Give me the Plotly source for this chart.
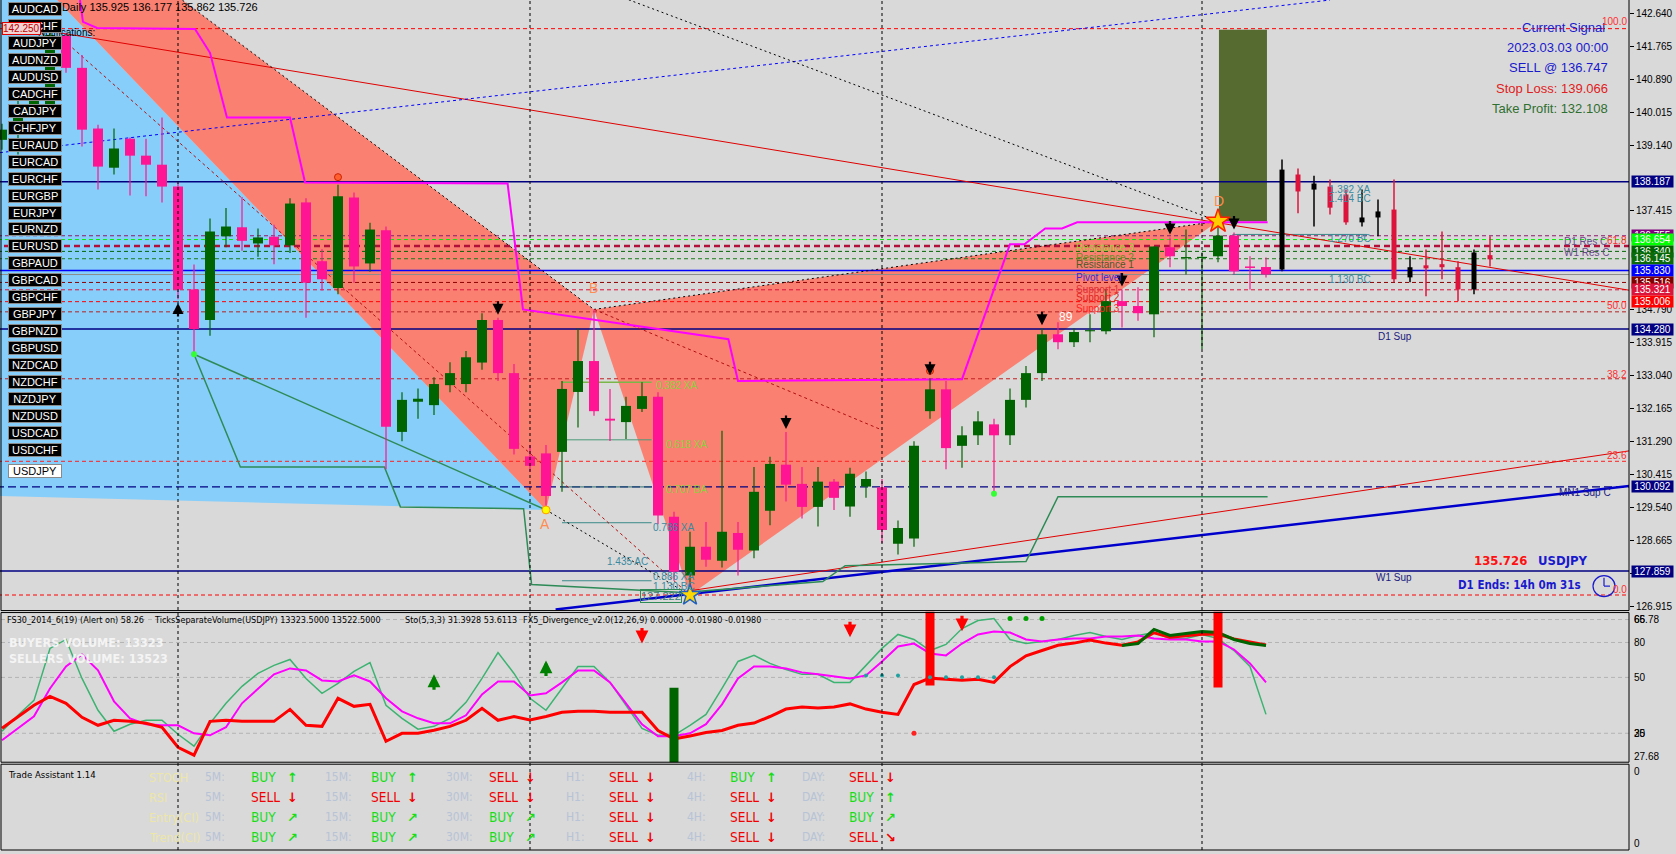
import plotly.graph_objects as go

W, H = 1676, 854
XR = 1629                      # right edge of plotting area (px)
MAIN_BOTTOM = 612
P1_TOP, P1_BOTTOM = 613, 765
P2_TOP, P2_BOTTOM = 766, 852
X_RANGE = [-0.125, (XR - 2) / 16]
Y_RANGE = [126.8091, 143.0106]
BG = "#d9d9d9"
SANS = "Liberation Sans, Arial, sans-serif"
COND = "DejaVu Sans Condensed, DejaVu Sans, sans-serif"


def px(x):
    return x / W


def py(y):
    return 1 - y / H


# ---------------- daily candles (USDJPY) ----------------
bar_idx = list(range(80))
bar_open = [139.30, 139.52, 140.18, 140.23, 142.06, 141.21, 139.60, 138.56, 139.33, 138.88,
            138.64, 138.06, 135.33, 134.52, 136.74, 136.98, 136.55, 136.73, 136.50, 137.64,
            136.08, 135.37, 137.77, 136.02, 136.90, 131.55, 132.35, 132.26, 132.79, 132.82,
            133.39, 134.52, 133.11, 130.90, 130.98, 131.02, 132.61, 133.43, 131.90, 131.81,
            132.16, 132.48, 129.30, 127.74, 128.50, 128.13, 128.87, 128.40, 129.46, 130.68,
            130.17, 129.56, 130.23, 129.57, 130.10, 130.08, 128.58, 128.72, 132.10, 132.68,
            131.18, 131.46, 131.75, 131.46, 132.40, 133.11, 134.14, 133.93, 134.22, 134.22,
            135.02, 134.89, 134.67, 136.45, 136.16, 136.17, 136.21, 136.76, 135.94, 135.925]
bar_high = [139.73, 140.36, 140.55, 142.27, 142.14, 141.55, 139.70, 139.60, 139.36, 139.33,
            139.89, 138.17, 135.99, 137.21, 137.49, 137.78, 136.95, 137.05, 137.75, 137.75,
            136.40, 138.11, 137.90, 137.10, 137.00, 132.60, 132.70, 133.00, 133.40, 133.70,
            134.70, 134.58, 133.35, 131.20, 131.20, 132.90, 134.30, 134.80, 132.69, 132.48,
            132.87, 132.60, 129.43, 128.90, 129.16, 131.58, 129.16, 130.62, 130.89, 131.55,
            130.62, 130.62, 130.30, 130.60, 130.50, 130.30, 129.20, 131.30, 132.97, 132.90,
            131.70, 132.10, 131.90, 132.70, 133.30, 134.30, 134.46, 134.30, 134.67, 135.33,
            135.33, 135.39, 136.47, 136.71, 136.92, 136.31, 137.13, 136.84, 136.21, 136.177]
bar_low = [139.04, 138.91, 139.90, 140.10, 141.08, 139.12, 137.98, 138.38, 137.82, 137.80,
           137.64, 135.07, 133.61, 134.10, 136.45, 136.36, 136.20, 136.00, 136.30, 134.58,
           135.30, 135.20, 135.51, 135.80, 130.56, 131.30, 131.90, 132.00, 132.60, 132.60,
           133.20, 132.90, 130.95, 130.50, 129.48, 129.96, 131.67, 131.98, 131.31, 131.36,
           132.08, 129.10, 127.60, 127.22, 127.97, 127.95, 127.74, 128.20, 129.07, 129.70,
           129.25, 129.04, 129.48, 129.30, 129.80, 128.60, 128.30, 128.50, 131.90, 130.56,
           130.60, 131.20, 129.91, 131.20, 132.20, 132.90, 133.74, 133.80, 133.93, 134.14,
           134.32, 134.50, 134.06, 135.92, 135.73, 133.75, 136.05, 135.73, 135.33, 135.65]
bar_close = [139.57, 140.18, 140.39, 142.08, 141.21, 139.57, 138.59, 139.07, 138.88, 138.64,
             138.06, 135.33, 134.28, 136.87, 137.00, 136.62, 136.71, 136.50, 137.61, 135.51,
             135.60, 137.80, 135.94, 136.92, 131.69, 132.40, 132.43, 132.82, 133.11, 133.53,
             134.52, 133.11, 131.10, 130.65, 129.85, 132.69, 133.43, 132.10, 131.85, 132.24,
             132.50, 129.33, 127.84, 128.50, 128.16, 128.90, 128.42, 129.96, 130.70, 130.15,
             129.56, 130.23, 129.80, 130.44, 130.30, 128.95, 129.00, 131.18, 132.68, 131.12,
             131.46, 131.83, 131.46, 132.40, 133.11, 134.14, 133.93, 134.20, 134.25, 135.02,
             134.89, 134.70, 136.47, 136.21, 136.19, 136.19, 136.76, 135.81, 135.90, 135.726]

# projected bars drawn to the right of the last bar
proj_idx = list(range(80, 94))
proj_open = [135.86, 138.38, 137.98, 138.06, 137.85, 137.11, 137.24, 137.45, 135.65, 135.97, 136.00, 135.92, 135.33, 136.24]
proj_high = [138.78, 138.54, 138.35, 138.25, 137.98, 137.98, 137.72, 138.25, 136.21, 136.39, 136.87, 136.08, 136.39, 136.74]
proj_low = [135.81, 137.35, 137.00, 137.32, 137.05, 137.00, 136.74, 135.52, 135.52, 135.15, 135.60, 135.02, 135.20, 135.94]
proj_close = [138.51, 137.93, 138.14, 137.50, 137.11, 137.24, 137.40, 135.60, 135.92, 135.89, 135.92, 135.33, 136.31, 136.13]

# harmonic pattern points (bar, price)
P0 = (-30.0, 130.17)
PX = (-16.7, 151.93)
PA = (34, 129.48)
PB = (37, 134.80)
PC = (43, 127.22)
PD = (76, 137.14)

# horizontal levels
level_price = [142.25, 138.187, 136.755, 136.654, 136.48, 136.340, 136.145, 135.830, 135.726,
               135.516, 135.321, 135.006, 134.736, 134.280, 132.96, 130.77, 130.092, 127.859, 127.222]
level_color = ["#ff0000", "#000080", "#8b1a6b", "#00ee00", "#b0103a", "#006400", "#1a7a1a", "#0000ff", "#8c8c8c",
               "#8b0000", "#dc143c", "#ff0000", "#b22222", "#000080", "#c02020", "#ff2020", "#000080", "#000080", "#ff0000"]
level_dash = ["4px,3px", "solid", "4px,3px", "4px,3px", "6px,4px", "4px,3px", "4px,3px", "solid", "solid",
              "4px,3px", "4px,3px", "4px,3px", "4px,3px", "solid", "4px,3px", "4px,3px", "8px,4px", "solid", "4px,3px"]
level_width = [1, 1.5, 1, 1, 2.5, 1, 1, 1.5, 1, 1, 1, 1, 1, 1.5, 1, 1, 1.2, 1.5, 1]

# trend lines (bar, price) pairs
red_trend = [(-0.125, 142.40), (101.69, 135.31)]
blue_dot_trend = [(-0.125, 138.96), (83.0, 143.01)]
blue_thick_trend = [(34.6, 126.84), (101.75, 130.12)]
red_thin_trend = [(42.6, 127.31), (101.75, 131.05)]
red_dot_xc = [(4.4, 141.74), PC]
red_dot_b = [PB, (55, 131.60)]

magenta_x = [4.875, 5.06, 5.94, 12.06, 13.0, 14.06, 18.0, 18.94, 31.6, 32.56, 45.4, 46.0, 60.0, 62.4, 63.0,
             63.9, 65.2, 66.25, 67.2, 79.1]
magenta_y = [143.01, 142.43, 142.27, 142.24, 141.61, 139.89, 139.89, 138.17, 138.14, 134.80, 134.01, 132.90,
             132.95, 135.81, 136.53, 136.53, 136.95, 136.95, 137.11, 137.11]
green_step_x = [12, 14.9, 23.9, 24.9, 32.6, 33.1, 42.6, 51.3, 52.7, 64.0, 66.0, 79.1]
green_step_y = [133.61, 130.62, 130.62, 129.56, 129.51, 127.50, 127.29, 127.58, 128.00, 128.11, 129.83, 129.83]
green_diag = [(12, 133.61), PA]

tp_box = dict(x0=76.06, x1=79.06, y0=137.14, y1=142.22)

pattern_lvl_price = [132.87, 131.34, 130.09, 129.14, 127.60]
pattern_lvl_color = ["#7ab648", "#4a9a7a", "#2f6f6f", "#3a8a8a", "#3a8a8a"]
right_lvl_price = [136.79, 135.73]

down_arrow_bars = [31, 49, 58, 65, 70, 73, 77]
up_arrow_bars = [11]
fractal_bars = [21, 58]

# ---------------- lower indicator panel ----------------
red_v = [23.0, 30.3, 38.2, 44.1, 39.5, 30.3, 25.0, 28.3, 27.6, 26.3, 23.7, 10.5, 5.3, 27.6, 28.3, 27.6, 27.6, 27.6, 35.5, 25.0,
         24.3, 42.8, 37.5, 38.8, 14.5, 19.7, 19.7, 21.7, 24.3, 28.3, 36.2, 28.3, 30.8, 28.5, 30.8, 33.6, 34.3, 34.3, 33.6, 33.6,
         33.6, 21.6, 16.0, 18.0, 20.2, 21.6, 25.0, 26.5, 30.8, 35.7, 37.1, 36.4, 37.1, 39.1, 35.7, 33.6, 32.2, 51.9, 56.1, 55.4,
         54.7, 55.4, 53.3, 63.7, 70.8, 74.3, 77.8, 79.2, 81.3, 79.2, 77.8, 80.0, 86.0, 83.0, 84.0, 85.0, 85.0, 82.0, 80.0, 78.0]
green_v = [21.1, 31.6, 41.4, 75.7, 81.6, 55.9, 34.9, 21.1, 25.7, 28.3, 28.3, 19.1, 11.2, 26.3, 39.5, 50.7, 59.2, 64.5, 68.4, 55.9,
           46.1, 52.6, 60.5, 66.4, 38.2, 29.6, 22.4, 24.3, 29.6, 40.1, 55.9, 73.0, 59.2, 42.8, 34.9, 49.3, 63.8, 63.8, 53.3, 38.2,
           23.0, 18.4, 18.4, 25.0, 32.2, 49.3, 67.1, 71.1, 65.8, 61.8, 58.6, 58.6, 53.3, 53.3, 64.5, 75.7, 84.9, 81.6, 74.3, 78.3,
           88.8, 94.1, 95.4, 81.6, 78.9, 80.3, 81.6, 84.2, 86.2, 83.6, 81.6, 84.2, 86.2, 82.2, 82.2, 84.9, 82.2, 74.3, 63.8, 32.2]
magenta_v = [15.1, 23.0, 30.9, 49.3, 63.8, 71.7, 61.2, 40.8, 29.6, 25.7, 25.0, 25.0, 19.7, 18.4, 23.7, 39.5, 49.3, 58.6, 62.5, 61.2,
             54.6, 53.9, 57.9, 53.9, 42.8, 34.2, 29.6, 26.3, 26.3, 31.6, 45.4, 53.9, 53.9, 44.7, 46.1, 53.3, 61.2, 61.2, 53.3, 39.5,
             25.7, 17.8, 17.8, 19.7, 25.7, 38.8, 55.9, 63.8, 63.8, 62.5, 59.9, 58.6, 57.2, 55.9, 57.9, 67.1, 77.0, 78.9, 72.4, 71.1,
             78.9, 84.9, 86.8, 86.2, 81.6, 80.3, 81.6, 82.2, 82.2, 83.6, 83.6, 84.2, 82.2, 81.6, 81.6, 80.3, 80.3, 75.0, 65.8, 53.3]
dkgreen_x = list(range(70, 80))
dkgreen_v = [77.6, 78.9, 88.2, 84.2, 85.5, 86.8, 86.2, 81.6, 78.9, 77.6]
hist_x = [42, 58, 76]
hist_lo = [0.7, 51.3, 49.9]
hist_hi = [49.7, 100.0, 100.0]
hist_col = ["#006400", "#ff0000", "#ff0000"]
sub_up_arrows = [(27, 58.6), (34, 67.8)]
sub_down_arrows = [(40, 79.0), (53, 83.0), (60, 87.0)]
green_dot_bars = [63, 64, 65]
teal_dot_bars = [54, 55, 56, 58, 59, 60, 61, 62]
teal_dot_v = [57.9, 57.9, 57.9, 56.6, 56.6, 56.6, 56.6, 56.6]
red_dot = (57, 19.7)

# ---------------- trade assistant ----------------
ta_rows = ["STOCH", "RSI", "Entry(CI)", "Trend(CI)"]
ta_periods = ["5M:", "15M:", "30M:", "H1:", "4H:", "DAY:"]
ta_signals = [["BUY", "BUY", "SELL", "SELL", "BUY", "SELL"],
              ["SELL", "SELL", "SELL", "SELL", "SELL", "BUY"],
              ["BUY", "BUY", "BUY", "SELL", "SELL", "BUY"],
              ["BUY", "BUY", "BUY", "SELL", "SELL", "SELL"]]
ta_arrows = [["↑", "↑", "↓", "↓", "↑", "↓"],
             ["↓", "↓", "↓", "↓", "↓", "↑"],
             ["↗", "↗", "↗", "↓", "↓", "↗"],
             ["↗", "↗", "↗", "↓", "↓", "↘"]]

symbols = ["AUDCAD", "AUDCHF", "AUDJPY", "AUDNZD", "AUDUSD", "CADCHF", "CADJPY", "CHFJPY", "EURAUD", "EURCAD",
           "EURCHF", "EURGBP", "EURJPY", "EURNZD", "EURUSD", "GBPAUD", "GBPCAD", "GBPCHF", "GBPJPY", "GBPNZD",
           "GBPUSD", "NZDCAD", "NZDCHF", "NZDJPY", "NZDUSD", "USDCAD", "USDCHF", "USDJPY"]

price_ticks = [142.640, 141.765, 140.890, 140.015, 139.140, 137.415, 134.790, 133.915, 133.040,
               132.165, 131.290, 130.415, 129.540, 128.665, 127.790, 126.915]
box_prices = [138.187, 136.755, 136.654, 136.340, 136.145, 135.830, 135.516, 135.321, 135.006, 134.280, 130.092, 127.859]
box_colors = ["#000080", "#800080", "#00ff00", "#006400", "#0b6b0b", "#0000ff", "#800000", "#dc143c", "#ff0000",
              "#000080", "#000080", "#000080"]

# =====================================================
traces = []
ann = []
shapes = []


def seg(pts, color, width=1, dash="solid", xa="x", ya="y"):
    traces.append(go.Scatter(x=[p[0] for p in pts], y=[p[1] for p in pts], mode="lines",
                             line=dict(color=color, width=width, dash=dash), xaxis=xa, yaxis=ya,
                             hoverinfo="skip"))


def text(x, y, s, color="black", size=11, family=SANS, xanchor="left", yanchor="middle", **kw):
    d = dict(x=px(x), y=py(y), xref="paper", yref="paper", text=s, showarrow=False,
             xanchor=xanchor, yanchor=yanchor, font=dict(color=color, size=size, family=family), borderpad=0)
    d.update(kw)
    ann.append(d)


def candles(idx, op, hi, lo, cl, up_col, dn_col, body_w, wick_w, min_body):
    for bull, col in [(True, up_col), (False, dn_col)]:
        wx, wy, bx, by = [], [], [], []
        for i, o, hh, ll, cc in zip(idx, op, hi, lo, cl):
            if (cc >= o) != bull:
                continue
            b0, b1 = min(o, cc), max(o, cc)
            if b1 - b0 < min_body:
                m = (b0 + b1) / 2
                b0, b1 = m - min_body / 2, m + min_body / 2
            wx += [i, i, None]
            wy += [ll, hh, None]
            bx += [i, i, None]
            by += [b0, b1, None]
        traces.append(go.Scatter(x=wx, y=wy, mode="lines", line=dict(color=col, width=wick_w), hoverinfo="skip"))
        traces.append(go.Scatter(x=bx, y=by, mode="lines", line=dict(color=col, width=body_w), hoverinfo="skip"))


for poly, col in [([P0, PX, PA], "#87cefa"), ([PX, PA, PB], "#fa8072"), ([PB, PC, PD], "#fa8072")]:
    traces.append(go.Scatter(x=[p[0] for p in poly] + [poly[0][0]], y=[p[1] for p in poly] + [poly[0][1]],
                             mode="lines", fill="toself", fillcolor=col, line=dict(width=0, color=col),
                             hoverinfo="skip"))

traces.append(go.Scatter(x=[tp_box["x0"], tp_box["x1"], tp_box["x1"], tp_box["x0"], tp_box["x0"]],
                         y=[tp_box["y0"], tp_box["y0"], tp_box["y1"], tp_box["y1"], tp_box["y0"]],
                         mode="lines", fill="toself", fillcolor="#556b2f", line=dict(width=0, color="#556b2f"),
                         hoverinfo="skip"))

for p, col, d, w in zip(level_price, level_color, level_dash, level_width):
    seg([(X_RANGE[0] - 1, p), (X_RANGE[1] + 1, p)], col, w, d)

for p, col in zip(pattern_lvl_price, pattern_lvl_color):
    seg([(35, p), (40.6, p)], col, 1.5 if col == "#7ab648" else 1)
for p in right_lvl_price:
    seg([(76.9, p), (85.3, p)], "#3a8a8a", 1)

seg(red_trend, "#e00000", 1)
seg(blue_dot_trend, "#0000ff", 1, "3px,3px")
seg([PX, PB], "#000000", 1, "2px,3px")
seg([PB, PD], "#000000", 1, "2px,3px")
seg([PX, PD], "#000000", 1, "2px,3px")
seg([PA, PC], "#000000", 1, "2px,3px")
seg(red_dot_xc, "#b01010", 1, "3px,3px")
seg(red_dot_b, "#b01010", 1, "3px,3px")
seg(red_thin_trend, "#e00000", 1)
seg(blue_thick_trend, "#0000cd", 2.5)
seg(green_diag, "#2e8b57", 1.5)
traces.append(go.Scatter(x=green_step_x, y=green_step_y, mode="lines", line=dict(color="#2e8b57", width=1.5),
                         hoverinfo="skip"))
traces.append(go.Scatter(x=magenta_x, y=magenta_y, mode="lines", line=dict(color="#ff00ff", width=2),
                         hoverinfo="skip"))

candles(bar_idx, bar_open, bar_high, bar_low, bar_close, "#006400", "#ff1493", 10, 1.2, 0.03)
candles(proj_idx, proj_open, proj_high, proj_low, proj_close, "#000000", "#dc143c", 5, 1.5, 0.03)

traces.append(go.Scatter(x=[fb for fb in fractal_bars], y=[bar_high[fb] + 0.2 for fb in fractal_bars], mode="markers",
                         marker=dict(symbol="circle", size=7, color="#ff6030", line=dict(color="#cc2000", width=1)),
                         hoverinfo="skip"))
traces.append(go.Scatter(x=[12, 62], y=[bar_low[12], bar_low[62]], mode="markers",
                         marker=dict(symbol="circle", size=6, color="#33ff33"), hoverinfo="skip"))
traces.append(go.Scatter(x=[PA[0]], y=[PA[1]], mode="markers",
                         marker=dict(symbol="circle", size=8, color="#ffff00", line=dict(color="#ff9900", width=1)),
                         hoverinfo="skip"))
traces.append(go.Scatter(x=[PC[0]], y=[PC[1]], mode="markers",
                         marker=dict(symbol="star", size=16, color="#ffd700", line=dict(color="#2060c0", width=1.5)),
                         hoverinfo="skip"))
traces.append(go.Scatter(x=[PD[0]], y=[PD[1]], mode="markers",
                         marker=dict(symbol="star", size=18, color="#ffcc00", line=dict(color="#ff2000", width=1.5)),
                         hoverinfo="skip"))

for b in down_arrow_bars:
    ann.append(dict(x=b, y=bar_high[b] + 0.08, xref="x", yref="y", text="", showarrow=True, ax=0, ay=-15,
                    arrowhead=2, arrowsize=1, arrowwidth=2.2, arrowcolor="#000000"))
for b in up_arrow_bars:
    ann.append(dict(x=b, y=bar_low[b] - 0.1, xref="x", yref="y", text="", showarrow=True, ax=0, ay=15,
                    arrowhead=2, arrowsize=1, arrowwidth=2.2, arrowcolor="#000000"))

traces.append(go.Scatter(x=bar_idx, y=green_v, mode="lines", line=dict(color="#3cb371", width=1.5),
                         xaxis="x2", yaxis="y2", hoverinfo="skip"))
traces.append(go.Scatter(x=bar_idx, y=magenta_v, mode="lines", line=dict(color="#ff00ff", width=2),
                         xaxis="x2", yaxis="y2", hoverinfo="skip"))
traces.append(go.Scatter(x=bar_idx, y=red_v, mode="lines", line=dict(color="#ff0000", width=3),
                         xaxis="x2", yaxis="y2", hoverinfo="skip"))
traces.append(go.Scatter(x=dkgreen_x, y=dkgreen_v, mode="lines", line=dict(color="#006400", width=3),
                         xaxis="x2", yaxis="y2", hoverinfo="skip"))
for hx, lo, hi, col in zip(hist_x, hist_lo, hist_hi, hist_col):
    traces.append(go.Scatter(x=[hx, hx], y=[lo, hi], mode="lines", line=dict(color=col, width=9),
                             xaxis="x2", yaxis="y2", hoverinfo="skip"))
traces.append(go.Scatter(x=green_dot_bars, y=[95.4] * len(green_dot_bars), mode="markers",
                         marker=dict(size=5, color="#00a000"), xaxis="x2", yaxis="y2", hoverinfo="skip"))
traces.append(go.Scatter(x=teal_dot_bars, y=teal_dot_v, mode="markers",
                         marker=dict(size=4, color="#20a0a0"), xaxis="x2", yaxis="y2", hoverinfo="skip"))
traces.append(go.Scatter(x=[red_dot[0]], y=[red_dot[1]], mode="markers",
                         marker=dict(size=5, color="#ff2020"), xaxis="x2", yaxis="y2", hoverinfo="skip"))
for b, v in sub_up_arrows:
    ann.append(dict(x=b, y=v, xref="x2", yref="y2", text="", showarrow=True, ax=0, ay=17,
                    arrowhead=2, arrowsize=0.8, arrowwidth=3.2, arrowcolor="#008000"))
for b, v in sub_down_arrows:
    ann.append(dict(x=b, y=v, xref="x2", yref="y2", text="", showarrow=True, ax=0, ay=-17,
                    arrowhead=2, arrowsize=0.8, arrowwidth=3.2, arrowcolor="#ff0000"))

for b in [11, 33, 55, 75]:
    shapes.append(dict(type="line", xref="x", yref="paper", x0=b, x1=b, y0=py(P2_BOTTOM), y1=1,
                       line=dict(color="#000000", width=1, dash="3px,3px"), layer="above"))
for gy in [621, 644, 679, 735]:
    shapes.append(dict(type="line", xref="paper", yref="paper", x0=px(1), x1=px(XR), y0=py(gy), y1=py(gy),
                       line=dict(color="#b4b4b4", width=1, dash="4px,3px"), layer="below"))
for (t, b) in [(-1, MAIN_BOTTOM), (P1_TOP + 1, P1_BOTTOM - 1), (P2_TOP, P2_BOTTOM)]:
    shapes.append(dict(type="rect", xref="paper", yref="paper", x0=px(1), x1=px(XR), y0=py(b), y1=py(t),
                       line=dict(color="#000000", width=1), layer="above"))
shapes.append(dict(type="circle", xref="paper", yref="paper", x0=px(1593), x1=px(1615), y0=py(598), y1=py(577),
                   line=dict(color="#1a1acd", width=1.2), layer="above"))
shapes.append(dict(type="line", xref="paper", yref="paper", x0=px(1604), x1=px(1604), y0=py(587.5), y1=py(579),
                   line=dict(color="#1a1acd", width=1.2), layer="above"))
shapes.append(dict(type="line", xref="paper", yref="paper", x0=px(1604), x1=px(1610), y0=py(587.5), y1=py(587.5),
                   line=dict(color="#1a1acd", width=1.2), layer="above"))

text(5, 7, "▼USDJPY,Daily 135.925 136.177 135.862 135.726", size=11)
text(96, 33, "Notifications:", size=10, xanchor="right")

for k, s in enumerate(symbols):
    top = 2 + 17 * k + (4 if s == "USDJPY" else 0)
    sel = s == "USDJPY"
    ann.append(dict(x=px(8), y=py(top), xref="paper", yref="paper", text=s, showarrow=False, xanchor="left",
                    yanchor="top", width=52, height=12, borderpad=0, align="center",
                    bgcolor="#ffffff" if sel else "#000000", bordercolor="#8a8a8a", borderwidth=1,
                    font=dict(color="#000000" if sel else "#ffffff", size=11, family=SANS)))

ann.append(dict(x=px(2), y=py(29), xref="paper", yref="paper", text="142.250", showarrow=False, xanchor="left",
                yanchor="middle", bgcolor="#f2d4d4", bordercolor="#e00000", borderwidth=1, borderpad=0,
                font=dict(color="#c00000", size=10, family=SANS)))

text(1606, 28, "Current Signal", color="#1a1acd", size=13, xanchor="right")
text(1609, 48, "2023.03.03 00:00", color="#1a1acd", size=13, xanchor="right")
text(1609, 68, "SELL @ 136.747", color="#1a1acd", size=13, xanchor="right")
text(1609, 89, "Stop Loss: 139.066", color="#e02020", size=13, xanchor="right")
text(1609, 109, "Take Profit: 132.108", color="#2f6f2f", size=13, xanchor="right")

for s, yy in [("100.0", 22), ("61.8", 241), ("50.0", 306), ("38.2", 375), ("23.6", 457), ("0.0", 591)]:
    text(1628, yy, s, color="#ff3030", size=10, xanchor="right")

text(1563, 242, "D1 Res C", color="#6a4a8a", size=10)
text(1563, 253, "W1 Res C", color="#6a4a8a", size=10)
text(1377, 337, "D1 Sup", color="#1a1a80", size=10)
text(1558, 494, "MN1 Sup C", color="#1a1a80", size=10)
text(1375, 579, "W1 Sup", color="#1a1a80", size=10)

for s, yy, col in [("Resistance 3", 248, "#9acd32"), ("Resistance 2", 258, "#6b8e23"), ("Resistance 1", 265, "#4a5a2a"),
                   ("Pivot level", 278, "#3a2ad0"), ("Support 1", 290, "#e03030"), ("Support 2", 298, "#e02020"),
                   ("Support 3", 309, "#ff2020")]:
    text(1075, yy, s, color=col, size=10)

text(1473, 562, "<b>135.726</b>", color="#ff1010", size=13, family=COND)
text(1537, 562, "<b>USDJPY</b>", color="#1a1acd", size=13, family=COND)
text(1457, 586, "<b>D1 Ends: 14h 0m 31s</b>", color="#1a1acd", size=11.5, family=COND)

text(545, 525, "A", color="#ff8c50", size=14, xanchor="center")
text(593, 289, "B", color="#ff8c50", size=14, xanchor="center")
text(1219, 201, "D", color="#ff8c50", size=14, xanchor="center")
text(1066, 318, "89", color="#ffffff", size=12, xanchor="center")

for s, xx, yy, col in [("0.382 XA", 655, 386, "#8fcf3f"), ("0.618 XA", 665, 446, "#8fcf3f"),
                       ("0.707 BA", 665, 491, "#8fcf3f"), ("0.786 XA", 652, 529, "#3a8aa0"),
                       ("1.435 AC", 606, 563, "#3a8aa0"), ("0.886 XA", 652, 578, "#3a8aa0"),
                       ("1.130 BC", 652, 588, "#3a8aa0"), ("1.382 XA", 1328, 190, "#3a8aa0"),
                       ("1.414 BC", 1328, 199, "#3a8aa0"), ("1.270 BC", 1328, 239, "#3a8aa0"),
                       ("1.130 BC", 1328, 280, "#3a8aa0")]:
    text(xx, yy, s, color=col, size=10)
ann.append(dict(x=px(640), y=py(597), xref="paper", yref="paper", text="127.222", showarrow=False, xanchor="left",
                yanchor="middle", bordercolor="#2e8b57", borderwidth=1, borderpad=0,
                font=dict(color="#3a7a7a", size=11, family=SANS)))

for p, col in zip(box_prices, box_colors):
    ann.append(dict(x=px(1631), y=p, xref="paper", yref="y", text=f"{p:.3f}", showarrow=False, xanchor="left",
                    yanchor="middle", bgcolor=col, width=41, height=11, borderpad=0,
                    font=dict(color="#ffffff", size=10, family=SANS)))

text(6, 621, "FS30_2014_6(19) (Alert on) 58.26", size=9, family=COND)
text(153, 621, "TicksSeparateVolume(USDJPY) 13323.5000 13522.5000", size=9, family=COND)
text(404, 621, "Sto(5,3,3) 31.3928 53.6113", size=9, family=COND)
text(522, 621, "FX5_Divergence_v2.0(12,26,9) 0.00000 -0.01980 -0.01980", size=9, family=COND)
text(8, 644, "<b>BUYERS VOLUME: 13323</b>", color="#f4f4f4", size=12.5, family=COND)
text(8, 660, "<b>SELLERS VOLUME: 13523</b>", color="#f4f4f4", size=12.5, family=COND)
for s, yy in [("66", 621), ("65.78", 621), ("80", 644), ("50", 679), ("35", 735), ("20", 735), ("27.68", 758),
              ("0", 773), ("0", 845)]:
    text(1633, yy, s, size=10)

text(7, 776, "Trade Assistant 1.14", size=9.5, family=COND)
ta_y = [779, 799, 819, 839]
lab_x = [204, 324, 445, 565, 686, 801]
val_x = [250, 370, 488, 608, 729, 848]
for r, yy in enumerate(ta_y):
    text(148, yy, ta_rows[r], color="#ece6a8", size=12.5, family=COND)
    for j in range(6):
        text(lab_x[j], yy, ta_periods[j], color="#b7c3d6", size=12, family=COND)
        col = "#19dd19" if ta_signals[r][j] == "BUY" else "#f00000"
        text(val_x[j], yy, ta_signals[r][j], color=col, size=13.5, family=COND)
        text(val_x[j] + 36, yy, "<b>" + ta_arrows[r][j] + "</b>", color=col, size=13, family="DejaVu Sans")

fig = go.Figure(traces)
fig.update_layout(
    width=W, height=H, margin=dict(l=0, r=0, t=0, b=0),
    paper_bgcolor=BG, plot_bgcolor=BG, showlegend=False, hovermode=False,
    xaxis=dict(domain=[0, px(XR)], range=X_RANGE, visible=False, fixedrange=True, anchor="y"),
    yaxis=dict(domain=[py(MAIN_BOTTOM), 1], range=Y_RANGE, side="right", anchor="x",
               tickvals=price_ticks, ticktext=[f"{t:.3f}" for t in price_ticks], ticks="outside", ticklen=4,
               tickcolor="#000000", tickfont=dict(family=SANS, size=10, color="#000000"),
               showgrid=False, zeroline=False, showline=False, fixedrange=True),
    xaxis2=dict(domain=[0, px(XR)], range=X_RANGE, visible=False, anchor="y2", fixedrange=True),
    yaxis2=dict(domain=[py(P1_BOTTOM), py(P1_TOP)], range=[0, 100], visible=False, anchor="x2", fixedrange=True),
    xaxis3=dict(domain=[0, px(XR)], range=X_RANGE, visible=False, anchor="y3", fixedrange=True),
    yaxis3=dict(domain=[py(P2_BOTTOM), py(P2_TOP)], range=[0, 1], visible=False, anchor="x3", fixedrange=True),
    annotations=ann, shapes=shapes,
)
fig.write_html("out.html", config={"displayModeBar": False},
               post_script="document.body.style.margin='0px';document.body.style.padding='0px';")
